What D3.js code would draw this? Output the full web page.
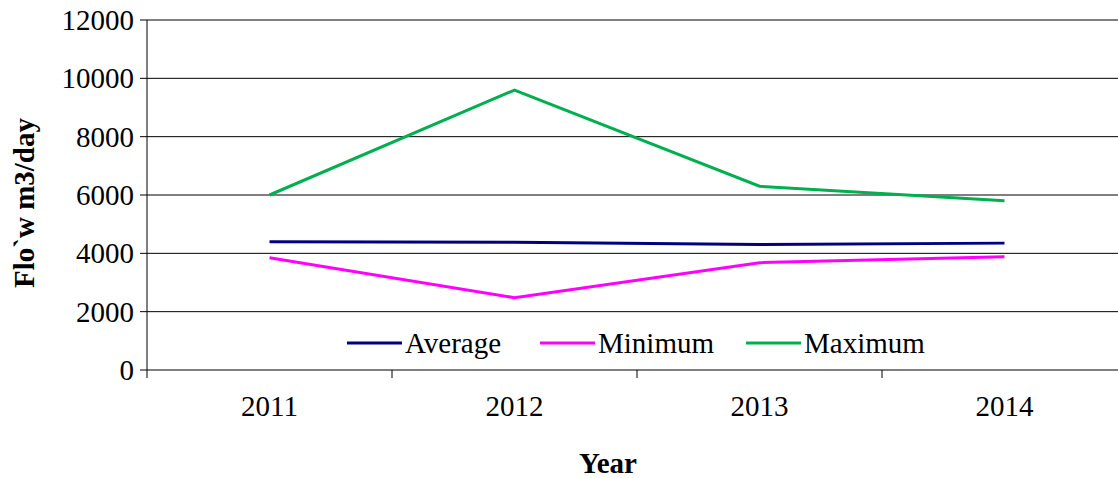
<!DOCTYPE html>
<html><head><meta charset="utf-8">
<script src="https://cdn.jsdelivr.net/npm/d3@7"></script>
<style>body{margin:0;background:#fff}text{font-family:"Liberation Serif","Times New Roman",serif}</style>
</head><body><svg id="c" width="1118" height="478"></svg>
<script>
const categories=["2011","2012","2013","2014"];
const average=[4400,4380,4300,4350];
const minimum=[3850,2480,3680,3880];
const maximum=[6000,9600,6300,5800];
const yTicks=[0,2000,4000,6000,8000,10000,12000];
const seriesNames=["Average","Minimum","Maximum"];
const colors=["#000080","#ff00ff","#00b050"];
const svg=d3.select("#c");
const x=d3.scaleBand().domain(categories).range([147,1127]);
const y=d3.scaleLinear().domain([0,12000]).range([370,20]);
const g=svg.append("g");
const fs=29;
yTicks.forEach(t=>{
  g.append("line").attr("x1",147).attr("x2",1118).attr("y1",y(t)).attr("y2",y(t)).attr("stroke","#000").attr("stroke-width",1);
  g.append("line").attr("x1",140).attr("x2",147).attr("y1",y(t)).attr("y2",y(t)).attr("stroke","#000");
  g.append("text").attr("x",134).attr("y",y(t)+10).attr("text-anchor","end").attr("font-size",fs).text(t);
});
g.append("line").attr("x1",147).attr("x2",147).attr("y1",20).attr("y2",370).attr("stroke","#000");
categories.forEach(c=>{
  g.append("line").attr("x1",x(c)).attr("x2",x(c)).attr("y1",370).attr("y2",378).attr("stroke","#000");
  g.append("text").attr("x",x(c)+x.bandwidth()/2).attr("y",416).attr("text-anchor","middle").attr("font-size",fs).text(c);
});
const data=[average,minimum,maximum];
const line=d3.line().x((d,i)=>x(categories[i])+x.bandwidth()/2).y(d=>y(d));
data.forEach((s,k)=>svg.append("path").attr("d",line(s)).attr("fill","none").attr("stroke",colors[k]).attr("stroke-width",3));
const lx=[347,540,746];
seriesNames.forEach((n,k)=>{
  svg.append("line").attr("x1",lx[k]).attr("x2",lx[k]+55).attr("y1",343).attr("y2",343).attr("stroke",colors[k]).attr("stroke-width",3);
  svg.append("text").attr("x",lx[k]+58).attr("y",353).attr("font-size",fs).text(n);
});
svg.append("text").attr("x",608).attr("y",473).attr("text-anchor","middle").attr("font-size",fs).attr("font-weight","bold").text("Year");
svg.append("text").attr("transform","translate(34,203) rotate(-90)").attr("text-anchor","middle").attr("font-size",fs).attr("font-weight","bold").text("Flo`w m3/day");
</script></body></html>
